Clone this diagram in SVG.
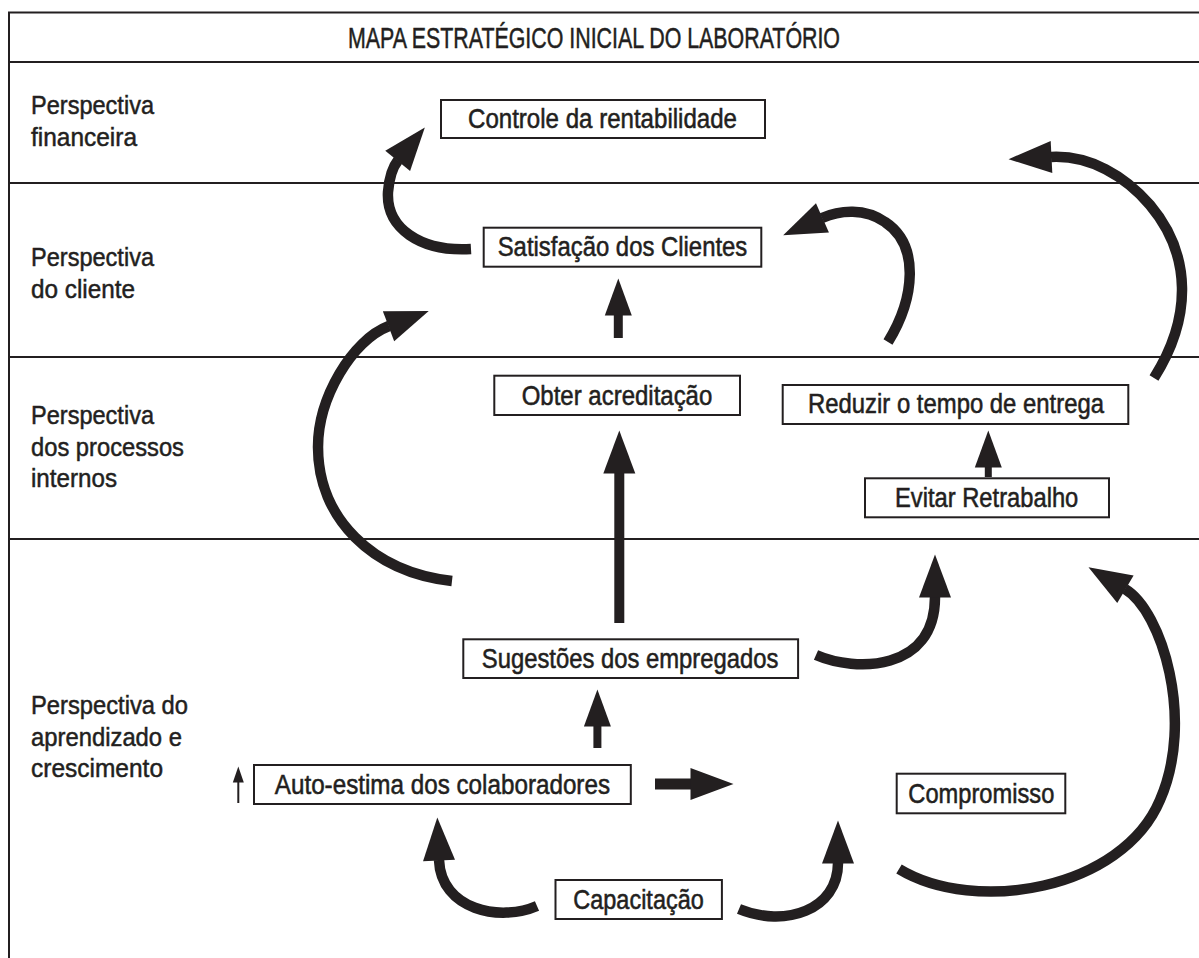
<svg xmlns="http://www.w3.org/2000/svg" width="1199" height="958" viewBox="0 0 1199 958">
<defs>
<style>
.frame{stroke:#231f20;stroke-width:2;fill:none}
.box{fill:#fff;stroke:#231f20;stroke-width:2}
.lbl{font-family:"Liberation Sans",Arial,sans-serif;font-size:27.5px;fill:#231f20;stroke:#231f20;stroke-width:0.55px}
.persp{font-family:"Liberation Sans",Arial,sans-serif;font-size:26px;fill:#231f20;stroke:#231f20;stroke-width:0.5px}
.title{font-family:"Liberation Sans",Arial,sans-serif;font-size:29px;fill:#231f20;stroke:#231f20;stroke-width:0.5px}
.arc{fill:none;stroke:#231f20;stroke-width:10.5;marker-end:url(#hb)}
.shaft{stroke:#231f20;fill:none}
</style>
<marker id="hb" markerUnits="userSpaceOnUse" markerWidth="44" markerHeight="34" viewBox="0 -17 44 34" refX="0.5" refY="0" orient="auto" overflow="visible"><path d="M0,-16 L43,0 L0,16 z" fill="#231f20"/></marker>
<marker id="hs" markerUnits="userSpaceOnUse" markerWidth="40" markerHeight="30" viewBox="0 -15 40 30" refX="0.5" refY="0" orient="auto" overflow="visible"><path d="M0,-13.5 L37,0 L0,13.5 z" fill="#231f20"/></marker>
<marker id="ht" markerUnits="userSpaceOnUse" markerWidth="18" markerHeight="14" viewBox="0 -7 18 14" refX="0.5" refY="0" orient="auto" overflow="visible"><path d="M0,-5.5 L16,0 L0,5.5 z" fill="#231f20"/></marker>
</defs>

<g id="frame">
<path class="frame" d="M9,12 V958 M8,12.5 H1199 M9,62 H1199 M9,183 H1199 M9,357 H1199 M9,539 H1199"/>
<text class="title" x="348" y="48" textLength="492" lengthAdjust="spacingAndGlyphs">MAPA ESTRATÉGICO INICIAL DO LABORATÓRIO</text>
</g>

<g id="perspectives">
<text class="persp" x="31" y="114"><tspan x="31" textLength="123" lengthAdjust="spacingAndGlyphs">Perspectiva</tspan><tspan x="31" y="146" textLength="106" lengthAdjust="spacingAndGlyphs">financeira</tspan></text>
<text class="persp" x="31" y="266"><tspan x="31" textLength="123" lengthAdjust="spacingAndGlyphs">Perspectiva</tspan><tspan x="31" y="298" textLength="104" lengthAdjust="spacingAndGlyphs">do cliente</tspan></text>
<text class="persp" x="31" y="424"><tspan x="31" textLength="123" lengthAdjust="spacingAndGlyphs">Perspectiva</tspan><tspan x="31" y="455.5" textLength="153" lengthAdjust="spacingAndGlyphs">dos processos</tspan><tspan x="31" y="487" textLength="86" lengthAdjust="spacingAndGlyphs">internos</tspan></text>
<text class="persp" x="31" y="714"><tspan x="31" textLength="157" lengthAdjust="spacingAndGlyphs">Perspectiva do</tspan><tspan x="31" y="745.5" textLength="151" lengthAdjust="spacingAndGlyphs">aprendizado e</tspan><tspan x="31" y="777" textLength="132" lengthAdjust="spacingAndGlyphs">crescimento</tspan></text>
</g>

<g id="node-controle">
<rect class="box" x="441" y="100" width="324" height="38"/>
<text class="lbl" x="468" y="128" textLength="269" lengthAdjust="spacingAndGlyphs">Controle da rentabilidade</text>
</g>
<g id="node-satisfacao">
<rect class="box" x="483.7" y="227.7" width="277.6" height="39"/>
<text class="lbl" x="497.7" y="255.7" textLength="249.6" lengthAdjust="spacingAndGlyphs">Satisfação dos Clientes</text>
</g>
<g id="node-obter">
<rect class="box" x="494.3" y="375.7" width="245.7" height="39.3"/>
<text class="lbl" x="521.7" y="405" textLength="190.6" lengthAdjust="spacingAndGlyphs">Obter acreditação</text>
</g>
<g id="node-reduzir">
<rect class="box" x="782.7" y="385" width="345.6" height="39"/>
<text class="lbl" x="808" y="413.3" textLength="296" lengthAdjust="spacingAndGlyphs">Reduzir o tempo de entrega</text>
</g>
<g id="node-evitar">
<rect class="box" x="865" y="478.3" width="244" height="39"/>
<text class="lbl" x="895" y="506.7" textLength="183.3" lengthAdjust="spacingAndGlyphs">Evitar Retrabalho</text>
</g>
<g id="node-sugestoes">
<rect class="box" x="463.3" y="639.3" width="334.8" height="38.7"/>
<text class="lbl" x="481.8" y="668.3" textLength="296.6" lengthAdjust="spacingAndGlyphs">Sugestões dos empregados</text>
</g>
<g id="node-autoestima">
<rect class="box" x="254" y="765" width="376.8" height="39"/>
<text class="lbl" x="274.8" y="794.3" textLength="335.2" lengthAdjust="spacingAndGlyphs">Auto-estima dos colaboradores</text>
</g>
<g id="node-capacitacao">
<rect class="box" x="555.5" y="880" width="166.4" height="39"/>
<text class="lbl" x="573.3" y="909.3" textLength="130.5" lengthAdjust="spacingAndGlyphs">Capacitação</text>
</g>
<g id="node-compromisso">
<rect class="box" x="896.7" y="773.7" width="168.6" height="39.6"/>
<text class="lbl" x="908.3" y="803.3" textLength="146" lengthAdjust="spacingAndGlyphs">Compromisso</text>
</g>

<g id="connectors">
<path class="arc" d="M471,249 C420,252 386,228 388,192 C389,180 391,169 398,160.4"/>
<path class="arc" d="M888,342 C915,298 920,245 885,222 C865,208 840,210 822,218"/>
<path class="arc" d="M1154,378 C1192,318 1192,255 1150,205 C1125,176 1090,155 1051,157"/>
<path class="arc" d="M452,581 C372,572 318,518 318,447 C318,398 352,340 389,326"/>
<path class="arc" d="M816,655 C855,672 935,672 935,597"/>
<path class="arc" d="M537,906 C500,922 441,910 439,860"/>
<path class="arc" d="M739,909 C785,928 838,910 838,863"/>
<path class="arc" d="M899,869 C975,915 1122,890 1160,800 C1195,720 1162,611 1125,589"/>
<line class="shaft" x1="618.3" y1="338" x2="618.3" y2="315" stroke-width="9" marker-end="url(#hs)"/>
<line class="shaft" x1="619.3" y1="623" x2="619.3" y2="473" stroke-width="10" marker-end="url(#hb)"/>
<line class="shaft" x1="597.4" y1="748" x2="597.4" y2="726" stroke-width="8" marker-end="url(#hs)"/>
<line class="shaft" x1="655" y1="784" x2="691" y2="784" stroke-width="11" marker-end="url(#hb)"/>
<line class="shaft" x1="988.3" y1="477" x2="988.3" y2="467" stroke-width="7" marker-end="url(#hs)"/>
<line class="shaft" x1="238.3" y1="803" x2="238.3" y2="782" stroke-width="2" marker-end="url(#ht)"/>
</g>
</svg>
